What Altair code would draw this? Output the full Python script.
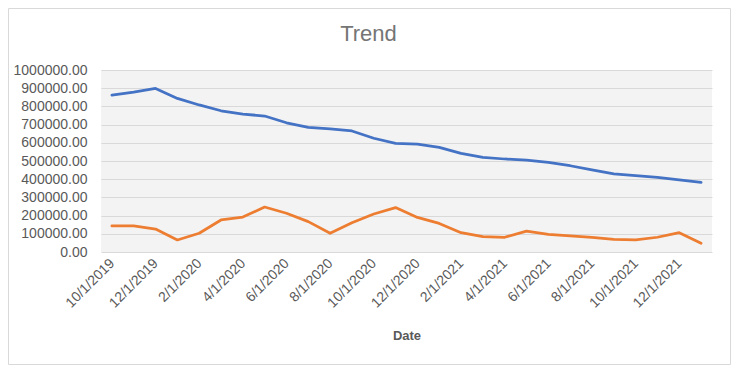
import altair as alt
import pandas as pd

dates = ["10/1/2019", "11/1/2019", "12/1/2019",
         "1/1/2020", "2/1/2020", "3/1/2020", "4/1/2020", "5/1/2020", "6/1/2020",
         "7/1/2020", "8/1/2020", "9/1/2020", "10/1/2020", "11/1/2020", "12/1/2020",
         "1/1/2021", "2/1/2021", "3/1/2021", "4/1/2021", "5/1/2021", "6/1/2021",
         "7/1/2021", "8/1/2021", "9/1/2021", "10/1/2021", "11/1/2021", "12/1/2021",
         "1/1/2022"]
series_a = [862000, 879000, 899000, 844000, 808000, 776000, 758000, 747000, 710000, 685000,
            676000, 665000, 625000, 597000, 593000, 575000, 542000, 520000, 511000, 505000,
            493000, 474000, 451000, 429000, 419000, 410000, 396000, 383000]
series_b = [143000, 143000, 126000, 66000, 103000, 176000, 192000, 247000, 213000, 167000,
            103000, 161000, 209000, 244000, 190000, 157000, 106000, 84000, 81000, 115000,
            97000, 88000, 81000, 70000, 66000, 81000, 106000, 48000]
series_names = ["Series1", "Series2"]
series_colors = ["#4472C4", "#ED7D31"]
label_dates = dates[::2]
y_ticks = [i * 100000 for i in range(11)]

rows = []
for d, a, b in zip(dates, series_a, series_b):
    rows.append({"Date": d, "Value": a, "Series": series_names[0]})
    rows.append({"Date": d, "Value": b, "Series": series_names[1]})
df = pd.DataFrame(rows)

FONT = "Liberation Sans"

lines = alt.Chart(df).mark_line(strokeWidth=2.75, strokeJoin="round", strokeCap="round").encode(
    x=alt.X("Date:O", sort=dates,
            scale=alt.Scale(type="point", padding=0.5),
            axis=alt.Axis(values=label_dates, labelAngle=-45, labelAlign="right",
                          labelBaseline="middle", labelPadding=9, ticks=False, tickSize=0,
                          domain=False, grid=False, labelFont=FONT, labelFontSize=14,
                          labelColor="#595959", title="Date", titleFont=FONT,
                          titleFontSize=13, titleFontWeight="bold", titleColor="#595959",
                          titleY=83, titleBaseline="middle")),
    y=alt.Y("Value:Q", scale=alt.Scale(domain=[0, 1000000], nice=False),
            axis=alt.Axis(values=y_ticks, format=".2f", ticks=False, tickSize=0, domain=False,
                          gridColor="#d9d9d9", gridWidth=1, labelFont=FONT, labelFontSize=14,
                          labelColor="#595959", labelPadding=14, title=None)),
    color=alt.Color("Series:N", scale=alt.Scale(domain=series_names, range=series_colors),
                    legend=None),
)

border = alt.Chart(pd.DataFrame({"k": [0]})).mark_rect(
    fillOpacity=0, stroke="#d9d9d9", strokeWidth=1
).encode(
    x=alt.value(-92.5), x2=alt.value(629.5), y=alt.value(-61.5), y2=alt.value(294.5)
)

chart = alt.layer(border, lines).properties(
    width=611, height=182,
    padding={"left": 93, "top": 62, "right": 19, "bottom": 113},
    autosize=alt.AutoSizeParams(type="none"),
    title=alt.TitleParams("Trend", fontSize=22, color="#757575", font=FONT,
                          fontWeight="normal", anchor="middle", dx=-38, dy=23,
                          offset=-24.5, baseline="middle"),
    background="white",
).configure_view(fill="#f3f3f3", strokeWidth=0)

chart.save("out.html", embed_options={"renderer": "svg", "actions": False})
